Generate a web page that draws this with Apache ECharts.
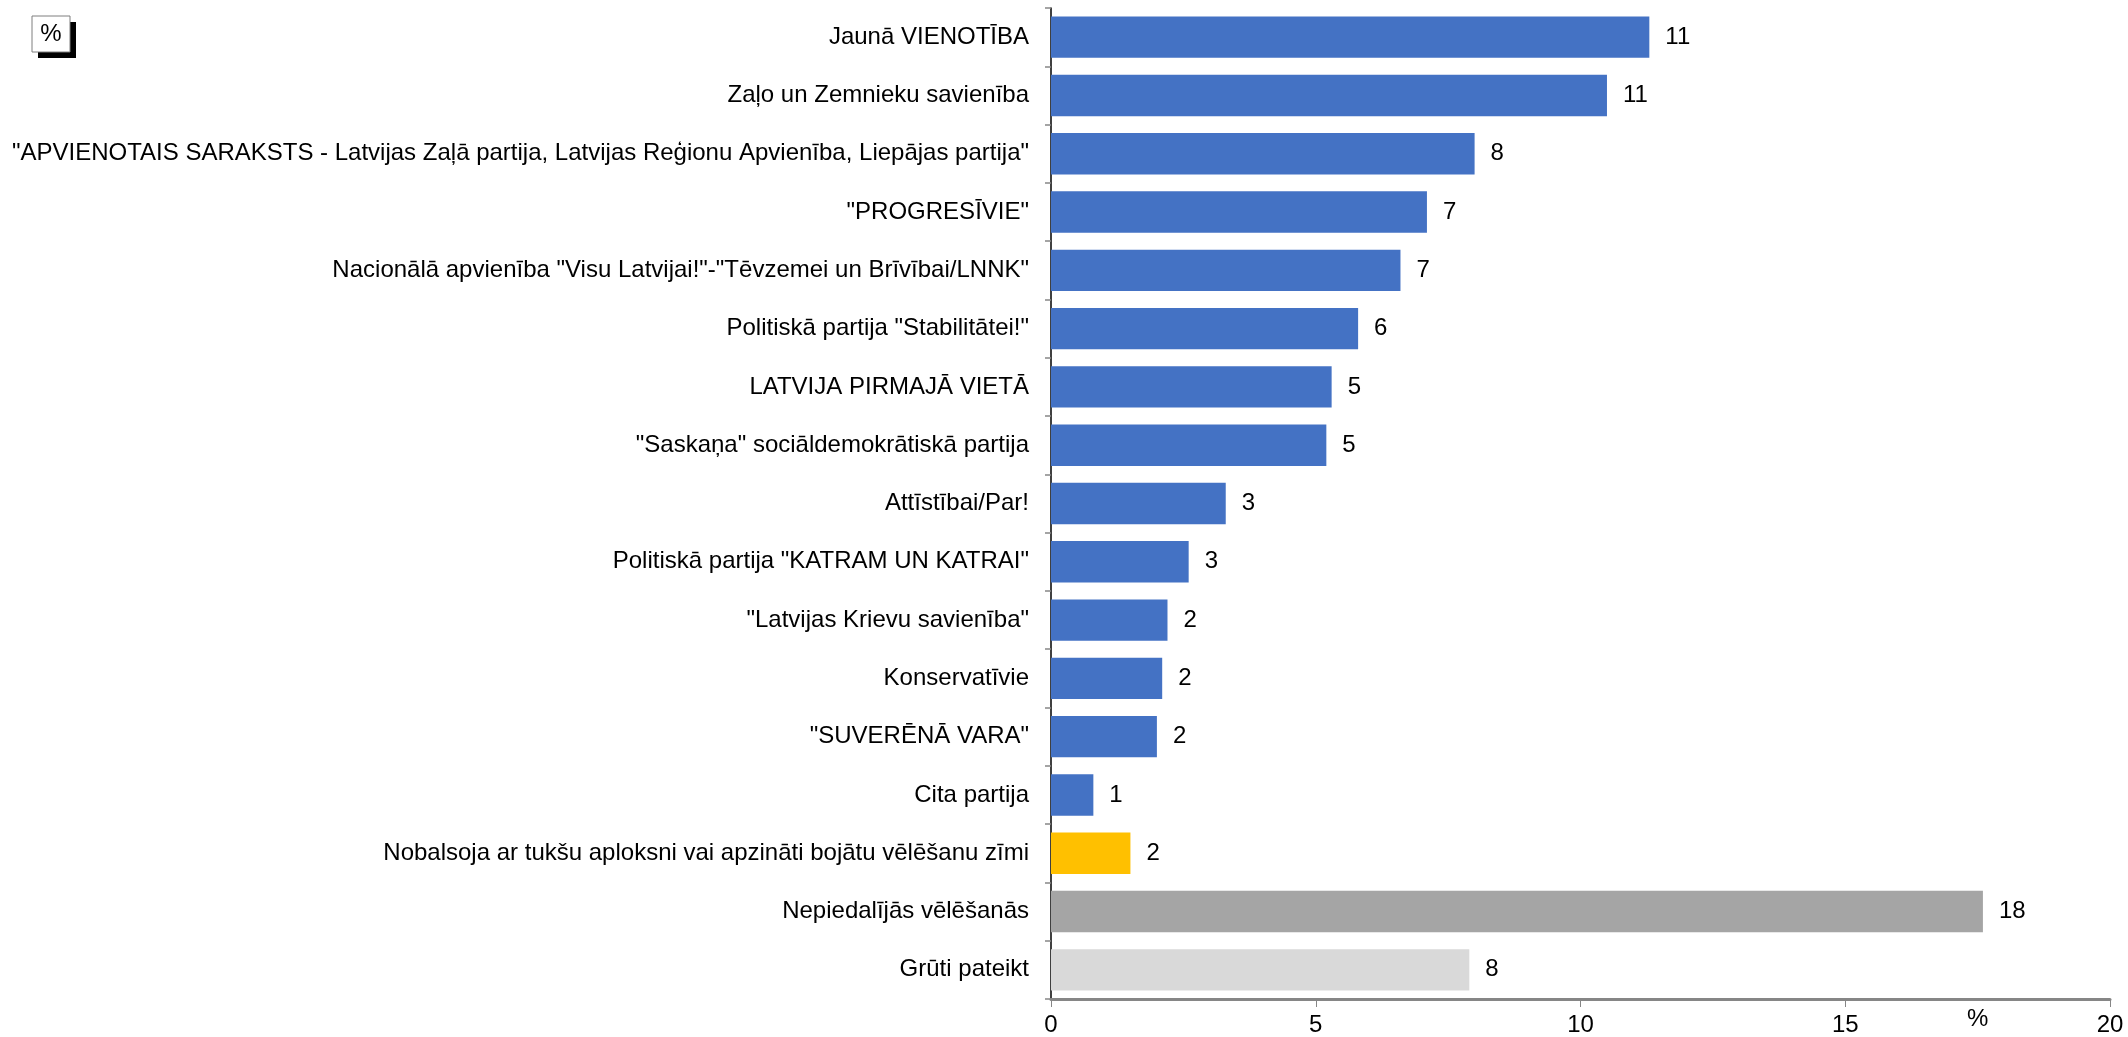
<!DOCTYPE html>
<html>
<head>
<meta charset="utf-8">
<script src="https://cdn.jsdelivr.net/npm/echarts@6/dist/echarts.min.js"></script>
<style>
html,body{margin:0;padding:0;background:#fff;}
#chart{width:2128px;height:1037px;}
</style>
</head>
<body>
<div id="chart"></div>
<script>
const categories = [
  'Jaunā VIENOTĪBA',
  'Zaļo un Zemnieku savienība',
  '"APVIENOTAIS SARAKSTS - Latvijas Zaļā partija, Latvijas Reģionu Apvienība, Liepājas partija"',
  '"PROGRESĪVIE"',
  'Nacionālā apvienība "Visu Latvijai!"-"Tēvzemei un Brīvībai/LNNK"',
  'Politiskā partija "Stabilitātei!"',
  'LATVIJA PIRMAJĀ VIETĀ',
  '"Saskaņa" sociāldemokrātiskā partija',
  'Attīstībai/Par!',
  'Politiskā partija "KATRAM UN KATRAI"',
  '"Latvijas Krievu savienība"',
  'Konservatīvie',
  '"SUVERĒNĀ VARA"',
  'Cita partija',
  'Nobalsoja ar tukšu aploksni vai apzināti bojātu vēlēšanu zīmi',
  'Nepiedalījās vēlēšanās',
  'Grūti pateikt'
];
const values = [11.3, 10.5, 8.0, 7.1, 6.6, 5.8, 5.3, 5.2, 3.3, 2.6, 2.2, 2.1, 2.0, 0.8, 1.5, 17.6, 7.9];
const groups = ['party','party','party','party','party','party','party','party','party','party','party','party','party','party','blank','abstain','unsure'];
const xTicks = [0, 5, 10, 15, 20];
const unitLabel = '%';

const groupColor = { party: '#4472C4', blank: '#FFC000', abstain: '#A5A5A5', unsure: '#D9D9D9' };
const FONT = '"Liberation Sans", Arial, sans-serif';

const chart = echarts.init(document.getElementById('chart'), null, { renderer: 'canvas' });

const option = {
  animation: false,
  backgroundColor: '#fff',
  grid: { left: 1051, right: 18, top: 8, bottom: 35, containLabel: false },
  xAxis: [
    {
      type: 'value',
      min: xTicks[0],
      max: xTicks[xTicks.length - 1],
      interval: xTicks[1] - xTicks[0],
      axisLine: { show: true, lineStyle: { color: '#868686', width: 3 } },
      axisTick: { show: true, length: 8, lineStyle: { color: '#868686', width: 1 } },
      splitLine: { show: false },
      axisLabel: { color: '#000', fontFamily: FONT, fontSize: 24, margin: 14 }
    },
    {
      type: 'value',
      position: 'bottom',
      min: 0,
      max: 20,
      interval: 2.5,
      axisLine: { show: false },
      axisTick: { show: false },
      splitLine: { show: false },
      axisLabel: {
        color: '#000', fontFamily: FONT, fontSize: 24, margin: 8,
        formatter: v => (v === 17.5 ? unitLabel : '')
      }
    }
  ],
  yAxis: {
    type: 'category',
    data: categories,
    inverse: true,
    axisLine: { show: true, lineStyle: { color: '#000', width: 1.5 } },
    axisTick: { show: true, length: 6, alignWithLabel: false, lineStyle: { color: '#868686', width: 1.5 } },
    axisLabel: { color: '#000', fontFamily: FONT, fontSize: 24, margin: 22, interval: 0 },
    splitLine: { show: false }
  },
  series: [{
    type: 'bar',
    xAxisIndex: 0,
    data: values.map((v, i) => ({ value: v, itemStyle: { color: groupColor[groups[i]] } })),
    barCategoryGap: '29%',
    label: {
      show: true,
      position: 'right',
      distance: 16,
      color: '#000',
      fontFamily: FONT,
      fontSize: 24,
      formatter: p => String(Math.round(p.value))
    }
  }],
  graphic: [
    { type: 'rect', shape: { x: 38, y: 22, width: 38, height: 36 }, style: { fill: '#000' }, z: 10 },
    { type: 'rect', shape: { x: 32, y: 16, width: 38, height: 36 }, style: { fill: '#fff', stroke: '#7f7f7f', lineWidth: 1 }, z: 11 },
    { type: 'text', x: 51, y: 34, style: { text: unitLabel, fontFamily: FONT, fontSize: 24, fill: '#000', align: 'center', verticalAlign: 'middle' }, z: 12 }
  ]
};
chart.setOption(option);
</script>
</body>
</html>
